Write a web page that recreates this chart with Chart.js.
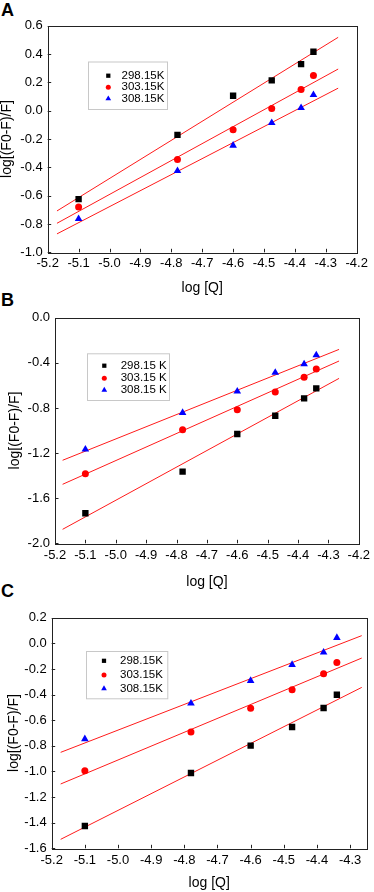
<!DOCTYPE html>
<html>
<head>
<meta charset="utf-8">
<script src="https://cdn.jsdelivr.net/npm/chart.js@4"></script>
<style>
html, body { margin: 0; padding: 0; background: #fff; }
body { position: relative; width: 374px; height: 892px; overflow: hidden; }
.panel { position: absolute; left: 0; width: 374px; }
.tag { position: absolute; left: 1px; font: bold 18px/18px "Liberation Sans", Arial, sans-serif; color: #000; }
</style>
</head>
<body>
<div class="tag" style="top:1px">A</div>
<div class="tag" style="top:291px">B</div>
<div class="tag" style="top:582px">C</div>
<div class="panel" style="top:0;height:296px"><canvas id="chartA"></canvas></div>
<div class="panel" style="top:296px;height:296px"><canvas id="chartB"></canvas></div>
<div class="panel" style="top:592px;height:300px"><canvas id="chartC"></canvas></div>
<script>
// log [Q] of the six quencher concentrations
const logQ = [-5.10, -4.78, -4.60, -4.475, -4.38, -4.34];

// panel A
const labelsA = ['298.15K', '303.15K', '308.15K'];
const a298 = [-0.625, -0.171, 0.105, 0.214, 0.329, 0.416];
const a303 = [-0.680, -0.345, -0.135, 0.016, 0.150, 0.249];
const a308 = [-0.764, -0.425, -0.246, -0.086, 0.020, 0.112];
const fitXA = [-5.17, -4.26];
const fitA298 = [-0.708, 0.518];
const fitA303 = [-0.795, 0.294];
const fitA308 = [-0.870, 0.159];

// panel B
const labelsB = ['298.15 K', '303.15 K', '308.15 K'];
const b298 = [-1.734, -1.365, -1.031, -0.869, -0.715, -0.626];
const b303 = [-1.383, -0.993, -0.815, -0.659, -0.529, -0.455];
const b308 = [-1.167, -0.842, -0.653, -0.487, -0.411, -0.331];
const fitXB = [-5.175, -4.265];
const fitB298 = [-1.876, -0.538];
const fitB303 = [-1.477, -0.384];
const fitB308 = [-1.264, -0.281];

// panel C
const labelsC = ['298.15K', '303.15K', '308.15K'];
const c298 = [-1.426, -1.012, -0.799, -0.653, -0.505, -0.401];
const c303 = [-0.994, -0.692, -0.507, -0.362, -0.237, -0.149];
const c308 = [-0.747, -0.468, -0.292, -0.167, -0.071, 0.044];
const fitXC = [-5.173, -4.265];
const fitC298 = [-1.530, -0.344];
const fitC303 = [-1.098, -0.115];
const fitC308 = [-0.851, 0.060];

const FONT = '"Liberation Sans", Arial, sans-serif';
const toPts = (xs, ys) => xs.map((x, i) => ({ x, y: ys[i] }));
const fmt1 = (v) => (Math.abs(v) < 1e-9 ? '0.0' : Number(v).toFixed(1));

const markers = [
    { color: '#000000', style: 'rect', radius: 4.5, legendRadius: 3 },
    { color: '#ff0000', style: 'circle', radius: 3.5, legendRadius: 2.5 },
    { color: '#0000ff', style: 'triangle', radius: 4.4, legendRadius: 3.3 }
];

// frame, inward ticks and the floating legend box
const framePlugin = {
    id: 'framePlugin',
    afterDatasetsDraw(chart) {
        const { ctx, chartArea: area } = chart;
        const xs = chart.scales.x;
        const ys = chart.scales.y;
        ctx.save();
        ctx.strokeStyle = '#222';
        ctx.lineWidth = 1;
        ctx.beginPath();
        xs.ticks.forEach((t, i) => {
            const px = Math.round(xs.getPixelForTick(i)) + 0.5;
            ctx.moveTo(px, area.bottom);
            ctx.lineTo(px, area.bottom - 3.5);
        });
        ys.ticks.forEach((t, i) => {
            const py = Math.round(ys.getPixelForTick(i)) + 0.5;
            ctx.moveTo(area.left, py);
            ctx.lineTo(area.left + 3.5, py);
        });
        ctx.stroke();
        ctx.strokeRect(Math.round(area.left) + 0.5, Math.round(area.top) + 0.5,
            Math.round(area.right - area.left), Math.round(area.bottom - area.top));

        const lg = chart.options.plugins.framePlugin.legend;
        ctx.fillStyle = '#fff';
        ctx.fillRect(lg.x, lg.y, lg.w, lg.h);
        ctx.strokeStyle = '#c8c8c8';
        ctx.strokeRect(lg.x + 0.5, lg.y + 0.5, lg.w, lg.h);
        ctx.font = '11.5px ' + FONT;
        ctx.textBaseline = 'middle';
        ctx.textAlign = 'left';
        lg.rows.forEach((ry, i) => {
            const m = markers[i];
            ctx.fillStyle = m.color;
            ctx.strokeStyle = m.color;
            Chart.helpers.drawPoint(ctx, { pointStyle: m.style, radius: m.legendRadius, borderWidth: 0 }, lg.mx, ry);
            ctx.fillStyle = '#000';
            ctx.fillText(chart.data.datasets[i].label, lg.tx, ry);
        });
        ctx.restore();
    }
};

const makePanel = (id, p) => {
    const pointSets = p.series.map((ys, i) => ({
        label: p.labels[i],
        data: toPts(logQ, ys),
        pointStyle: markers[i].style,
        pointRadius: markers[i].radius,
        pointHoverRadius: markers[i].radius,
        backgroundColor: markers[i].color,
        borderColor: markers[i].color,
        borderWidth: 0,
        showLine: false
    }));
    const fitSets = p.fits.map((ys) => ({
        label: 'fit',
        data: toPts(p.fitX, ys),
        showLine: true,
        borderColor: '#ff1a1a',
        borderWidth: 1,
        pointRadius: 0,
        fill: false
    }));

    return new Chart(document.getElementById(id), {
        type: 'scatter',
        data: { datasets: [...pointSets, ...fitSets] },
        options: {
            responsive: true,
            maintainAspectRatio: false,
            animation: false,
            events: [],
            layout: { padding: { left: 0, bottom: 0, top: p.top, right: p.right } },
            scales: {
                x: {
                    type: 'linear',
                    min: p.xMin,
                    max: p.xMax,
                    afterFit: (s) => { s.height = p.xH; },
                    grid: { display: false, drawTicks: false },
                    border: { display: false },
                    ticks: {
                        stepSize: 0.1,
                        includeBounds: false,
                        autoSkip: false,
                        maxRotation: 0,
                        padding: p.xPad,
                        color: '#000',
                        font: { family: FONT, size: 13 },
                        callback: fmt1
                    },
                    title: {
                        display: true,
                        text: 'log [Q]',
                        color: '#000',
                        font: { family: FONT, size: 14, lineHeight: 1 },
                        padding: { top: 0, bottom: p.xTitlePad }
                    }
                },
                y: {
                    min: p.yMin,
                    max: p.yMax,
                    afterFit: (s) => { s.width = p.left; },
                    grid: { display: false, drawTicks: false },
                    border: { display: false },
                    ticks: {
                        stepSize: p.yStep,
                        padding: 5,
                        color: '#000',
                        font: { family: FONT, size: 13 },
                        callback: fmt1
                    },
                    title: {
                        display: true,
                        text: 'log[(F0-F)/F]',
                        color: '#000',
                        font: { family: FONT, size: 14, lineHeight: 1 },
                        padding: { top: p.yTitlePad, bottom: 0 }
                    }
                }
            },
            plugins: {
                legend: { display: false },
                tooltip: { enabled: false },
                framePlugin: { legend: p.legend }
            }
        },
        plugins: [framePlugin]
    });
};

makePanel('chartA', {
    labels: labelsA, series: [a298, a303, a308],
    fitX: fitXA, fits: [fitA298, fitA303, fitA308],
    xMin: -5.2, xMax: -4.2, yMin: -1.0, yMax: 0.6, yStep: 0.2,
    top: 25.7, right: 17.3, left: 47.7, xH: 43.7,
    xPad: 3, xTitlePad: 0.5, yTitlePad: 0.5,
    legend: { x: 88, y: 61.5, w: 79, h: 47.5, mx: 108.3, tx: 121.5, rows: [75.7, 87.2, 98.7] }
});

makePanel('chartB', {
    labels: labelsB, series: [b298, b303, b308],
    fitX: fitXB, fits: [fitB298, fitB303, fitB308],
    xMin: -5.2, xMax: -4.2, yMin: -2.0, yMax: 0.0, yStep: 0.4,
    top: 21.7, right: 11.3, left: 55, xH: 48.7,
    xPad: 4, xTitlePad: 3.3, yTitlePad: 8,
    legend: { x: 87, y: 57.3, w: 82, h: 46.7, mx: 104.3, tx: 120.7, rows: [69.7, 82.2, 94] }
});

makePanel('chartC', {
    labels: labelsC, series: [c298, c303, c308],
    fitX: fitXC, fits: [fitC298, fitC303, fitC308],
    xMin: -5.2, xMax: -4.25, yMin: -1.6, yMax: 0.2, yStep: 0.2,
    top: 25.7, right: 7.3, left: 51.7, xH: 43.7,
    xPad: 4.5, xTitlePad: 2, yTitlePad: 7,
    legend: { x: 86, y: 59, w: 81.3, h: 47.3, mx: 104, tx: 120, rows: [68.8, 83, 96.5] }
});
</script>
</body>
</html>
